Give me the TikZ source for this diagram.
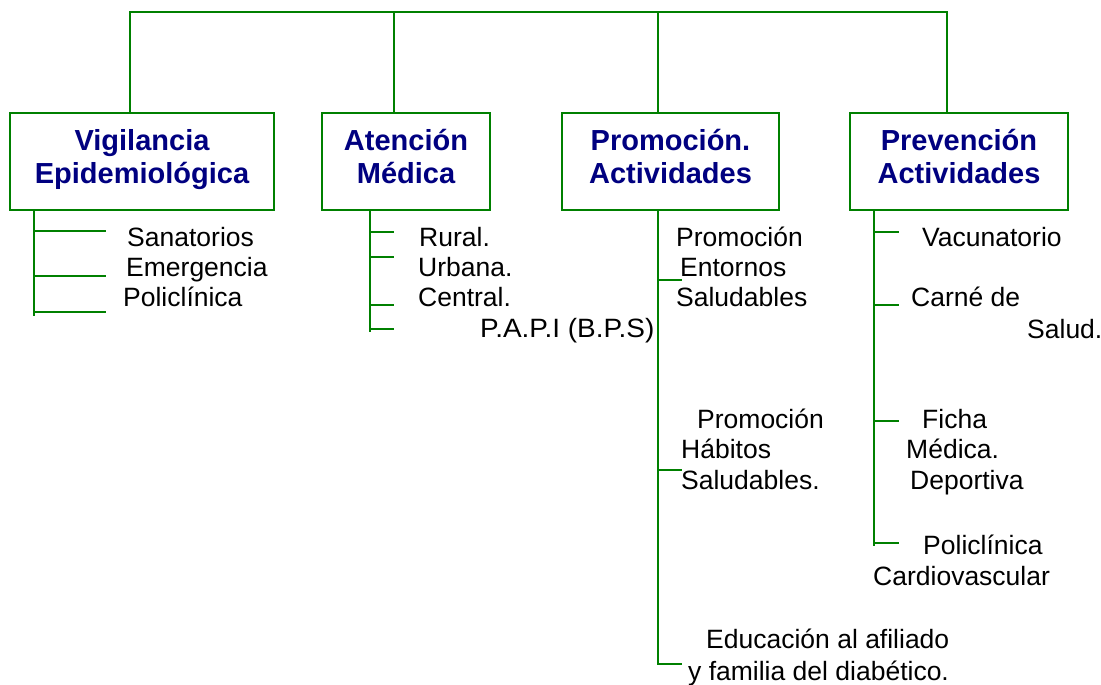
\documentclass[tikz,border=0pt]{standalone}
\usepackage{fontspec}
\setmainfont{Liberation Sans}
\definecolor{lg}{RGB}{0,128,0}
\definecolor{nv}{RGB}{0,0,128}
\begin{document}
\begin{tikzpicture}[x=1pt,y=-1pt,
 ln/.style={draw=lg,line width=2pt},
 hbox/.style={draw=lg,line width=2pt,inner sep=0pt,align=center,text=nv,
   font=\fontsize{29}{33}\selectfont\bfseries,minimum height=97pt},
 leaf/.style={anchor=base west,inner sep=0pt,font=\fontsize{26.5}{30}\selectfont}]
\useasboundingbox (0,0) rectangle (1101,685);
% header boxes
\node[hbox,minimum width=264pt] (vig) at (142,161.5) {\rule{0pt}{22pt}Vigilancia\\Epidemiológica\rule[-12pt]{0pt}{12pt}};
\node[hbox,minimum width=168pt] (atn) at (406,161.5) {\rule{0pt}{22pt}Atención\\Médica\rule[-12pt]{0pt}{12pt}};
\node[hbox,minimum width=217pt] (pro) at (670.5,161.5) {\rule{0pt}{22pt}Promoción.\\Actividades\rule[-12pt]{0pt}{12pt}};
\node[hbox,minimum width=218pt] (prv) at (959,161.5) {\rule{0pt}{22pt}Prevención\\Actividades\rule[-12pt]{0pt}{12pt}};
% top bus
\coordinate (bus) at (0,12.5);
\draw[ln] ([xshift=-12pt]vig.north) -- ([xshift=-12pt]vig.north |- bus) -- ([xshift=-12pt]prv.north |- bus) -- ([xshift=-12pt]prv.north);
\draw[ln] ([xshift=-12pt]atn.north) -- ([xshift=-12pt]atn.north |- bus);
\draw[ln] ([xshift=-12.5pt]pro.north) -- ([xshift=-12.5pt]pro.north |- bus);
% trunk ends
\coordinate (e1) at (34,316);
\coordinate (e2) at (370,332);
\coordinate (e3) at (658,664);
\coordinate (e4) at (874,546);
% branch 1
\draw[ln] (vig.south -| e1) -- (e1);
\foreach \y in {231,276,312} \draw[ln] (34,\y) -- ++(72,0);
% branch 2
\draw[ln] (atn.south -| e2) -- (e2);
\foreach \y in {232,257,305,329} \draw[ln] (370,\y) -- ++(24,0);
% branch 3
\draw[ln] (pro.south -| e3) -- (e3) -- ++(24,0);
\foreach \y in {280,470} \draw[ln] (658,\y) -- ++(24,0);
% branch 4
\draw[ln] (prv.south -| e4) -- (e4);
\foreach \y in {232,305,421,543} \draw[ln] (874,\y) -- ++(25,0);
% leaves branch 1
\node[leaf] (l11) at (127,246) {Sanatorios};
\node[leaf] (l12) at (126,276) {Emergencia};
\node[leaf] (l13) at (123,306) {Policlínica};
% leaves branch 2
\node[leaf] (l21) at (419,246) {Rural.};
\node[leaf] (l22) at (418,276) {Urbana.};
\node[leaf] (l23) at (418,306) {Central.};
\node[leaf] (l24) at (480,337) {\scalebox{1.055}[1]{P.A.P.I (B.P.S)}};
% leaves branch 3
\node[leaf] (l31a) at (676,246) {Promoción};
\node[leaf] (l31b) at (680,276) {Entornos};
\node[leaf] (l31c) at (676,306) {Saludables};
\node[leaf] (l32a) at (697,428) {Promoción};
\node[leaf] (l32b) at (681,458) {Hábitos};
\node[leaf] (l32c) at (681,489) {Saludables.};
\node[leaf] (l33a) at (706,648) {Educación al afiliado};
\node[leaf] (l33b) at (688,680) {y familia del diabético.};
% leaves branch 4
\node[leaf] (l41) at (922,246) {Vacunatorio};
\node[leaf] (l42a) at (911,306) {Carné de};
\node[leaf] (l42b) at (1027,338) {Salud.};
\node[leaf] (l43a) at (922,428) {Ficha};
\node[leaf] (l43b) at (906,458) {Médica.};
\node[leaf] (l43c) at (910,489) {Deportiva};
\node[leaf] (l44a) at (923,554) {Policlínica};
\node[leaf] (l44b) at (873,585) {Cardiovascular};
\end{tikzpicture}
\end{document}
